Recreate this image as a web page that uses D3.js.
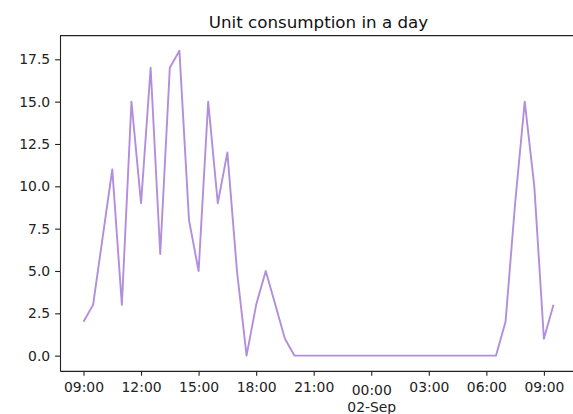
<!DOCTYPE html>
<html>
<head>
<meta charset="utf-8">
<script src="https://cdn.jsdelivr.net/npm/d3@7"></script>
<style>
    body { margin: 0; background: #fff; }
    svg { display: block; font-family: "DejaVu Sans", sans-serif; }
    .axis path, .axis line { stroke: #222; stroke-width: 1.1; }
    .axis text { fill: #222; font-size: 13.9px; font-family: "DejaVu Sans", sans-serif; }
</style>
</head>
<body>
<div id="chart"></div>
<script>
// data: half-hourly readings, 01-Sep 09:00 to 02-Sep 09:30
const times = [
    "2022-09-01 09:00", "2022-09-01 09:30", "2022-09-01 10:00", "2022-09-01 10:30",
    "2022-09-01 11:00", "2022-09-01 11:30", "2022-09-01 12:00", "2022-09-01 12:30",
    "2022-09-01 13:00", "2022-09-01 13:30", "2022-09-01 14:00", "2022-09-01 14:30",
    "2022-09-01 15:00", "2022-09-01 15:30", "2022-09-01 16:00", "2022-09-01 16:30",
    "2022-09-01 17:00", "2022-09-01 17:30", "2022-09-01 18:00", "2022-09-01 18:30",
    "2022-09-01 19:00", "2022-09-01 19:30", "2022-09-01 20:00", "2022-09-01 20:30",
    "2022-09-01 21:00", "2022-09-01 21:30", "2022-09-01 22:00", "2022-09-01 22:30",
    "2022-09-01 23:00", "2022-09-01 23:30", "2022-09-02 00:00", "2022-09-02 00:30",
    "2022-09-02 01:00", "2022-09-02 01:30", "2022-09-02 02:00", "2022-09-02 02:30",
    "2022-09-02 03:00", "2022-09-02 03:30", "2022-09-02 04:00", "2022-09-02 04:30",
    "2022-09-02 05:00", "2022-09-02 05:30", "2022-09-02 06:00", "2022-09-02 06:30",
    "2022-09-02 07:00", "2022-09-02 07:30", "2022-09-02 08:00", "2022-09-02 08:30",
    "2022-09-02 09:00", "2022-09-02 09:30"
];
const units = [
    2, 3, 7, 11, 3, 15, 9, 17, 6, 17, 18, 8, 5, 15, 9, 12, 5, 0, 3, 5, 3, 1, 0,
    0, 0, 0, 0, 0, 0, 0, 0, 0, 0, 0, 0, 0, 0, 0, 0, 0, 0, 0, 0, 0,
    2, 9, 15, 10, 1, 3
];
const yTicks = [0, 2.5, 5, 7.5, 10, 12.5, 15, 17.5];
const xTickHours = ["2022-09-01 09:00", "2022-09-01 12:00", "2022-09-01 15:00", "2022-09-01 18:00",
    "2022-09-01 21:00", "2022-09-02 00:00", "2022-09-02 03:00", "2022-09-02 06:00", "2022-09-02 09:00"];
const titleText = "Unit consumption in a day";

// margin convention (right spine falls just past the window edge, as in the original)
const svgWidth = 573,
    svgHeight = 414,
    margin = { top: 35.6, left: 60 },
    width = 517,
    height = 335.3;

const parseTime = d3.timeParse("%Y-%m-%d %H:%M");
let data = times.map((t, i) => ({ t: parseTime(t), v: units[i] }));

let svg = d3.select("#chart").append("svg")
    .attr("width", svgWidth)
    .attr("height", svgHeight);

let plot = svg.append("g")
    .attr("transform", `translate(${margin.left}, ${margin.top})`);

// scales (5% padding like matplotlib autoscale)
let tExtent = d3.extent(data, (d) => d.t);
let tPad = (tExtent[1] - tExtent[0]) * 0.05;
let xScale = d3.scaleTime()
    .domain([new Date(+tExtent[0] - tPad), new Date(+tExtent[1] + tPad)])
    .range([0, width]);
let vMax = d3.max(data, (d) => d.v), vMin = d3.min(data, (d) => d.v);
let vPad = (vMax - vMin) * 0.05;
let yScale = d3.scaleLinear()
    .domain([vMin - vPad, vMax + vPad])
    .range([height, 0]);

// line
plot.append("path")
    .datum(data)
    .attr("fill", "none")
    .attr("stroke", "#b28edc")
    .attr("stroke-width", 1.9)
    .attr("stroke-linejoin", "round")
    .attr("d", d3.line().x((d) => xScale(d.t)).y((d) => yScale(d.v)));

// axes
let yAxis = plot.append("g")
    .attr("class", "axis")
    .call(d3.axisLeft(yScale).tickValues(yTicks).tickFormat(d3.format(".1f"))
        .tickSize(4.9).tickPadding(4.9).tickSizeOuter(0));
let xAxis = plot.append("g")
    .attr("class", "axis")
    .attr("transform", `translate(0, ${height})`)
    .call(d3.axisBottom(xScale).tickValues(xTickHours.map(parseTime)).tickFormat(d3.timeFormat("%H:%M"))
        .tickSize(4.9).tickPadding(4.9).tickSizeOuter(0));
xAxis.selectAll(".tick text").attr("dy", "0.8em");

// midnight tick gets the date underneath
xAxis.selectAll(".tick text")
    .filter((d) => d.getHours() === 0)
    .text(null)
    .call((txt) => {
        txt.append("tspan").attr("x", 0).attr("dy", "1.05em").text("00:00");
        txt.append("tspan").attr("x", 0).attr("dy", "1.2em").text(d3.timeFormat("%d-%b")(parseTime("2022-09-02 00:00")));
    });

// frame (top and right spines)
plot.append("line").attr("x1", 0).attr("x2", width).attr("y1", 0).attr("y2", 0)
    .attr("stroke", "#222").attr("stroke-width", 1.1);
plot.append("line").attr("x1", width).attr("x2", width).attr("y1", 0).attr("y2", height)
    .attr("stroke", "#222").attr("stroke-width", 1.1);

// title
svg.append("text")
    .attr("x", margin.left + width / 2)
    .attr("y", 27.5)
    .attr("text-anchor", "middle")
    .attr("font-size", 16.7)
    .attr("fill", "#111")
    .text(titleText);
</script>
</body>
</html>
